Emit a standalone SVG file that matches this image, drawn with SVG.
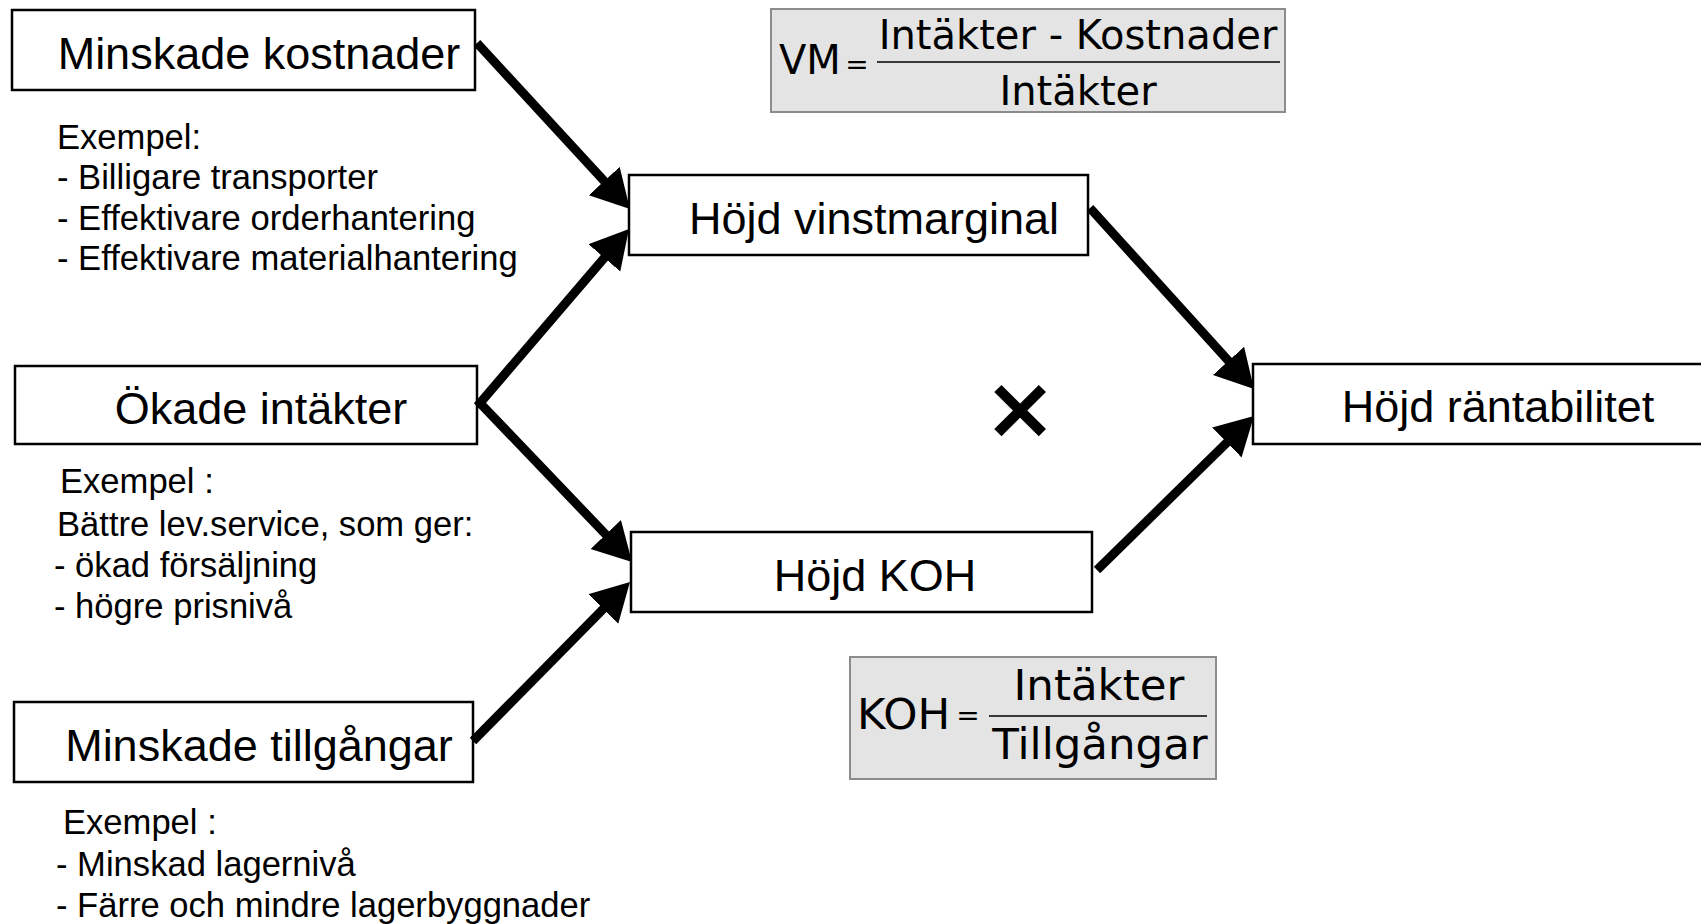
<svg xmlns="http://www.w3.org/2000/svg" width="1701" height="924" viewBox="0 0 1701 924">
<style>
.box{fill:#fff;stroke:#000;stroke-width:2.5}
.frm{fill:#e4e4e4;stroke:#8c8c8c;stroke-width:2}
.bt{font-family:"Liberation Sans",Arial,sans-serif;font-size:45px;fill:#000;text-anchor:middle}
.st{font-family:"Liberation Sans",Arial,sans-serif;font-size:34.6px;fill:#000}
.ft{font-family:"DejaVu Sans",Verdana,sans-serif;font-size:40px;fill:#000}
.fk{font-family:"DejaVu Sans",Verdana,sans-serif;font-size:43.5px;fill:#000}
.eq{font-family:"DejaVu Sans",Verdana,sans-serif;font-size:28px;fill:#000;text-anchor:middle}
.arr{fill:none;stroke:#000;stroke-width:9;stroke-linecap:butt;stroke-linejoin:miter;marker-end:url(#ah)}
</style>
<defs>
<marker id="ah" markerUnits="userSpaceOnUse" markerWidth="40" markerHeight="44" refX="18" refY="21" orient="auto-start-reverse" viewBox="0 0 40 44">
<path d="M0,0 L38,21 L0,42 Z" fill="#000"/>
</marker>
</defs>
<rect width="1701" height="924" fill="#fff"/>

<g id="vm-formula">
<rect class="frm" x="771" y="9" width="514" height="103"/>
<text class="ft" x="779" y="74">VM</text>
<text class="eq" x="857" y="74">=</text>
<line x1="877" y1="62" x2="1280" y2="62" stroke="#000" stroke-width="1.5"/>
<text class="ft" x="1078" y="49" text-anchor="middle">Intäkter - Kostnader</text>
<text class="ft" x="1078" y="105" text-anchor="middle">Intäkter</text>
</g>

<g id="koh-formula">
<rect class="frm" x="850" y="657" width="366" height="122"/>
<text class="fk" x="857" y="729">KOH</text>
<text class="eq" x="968" y="725">=</text>
<line x1="989" y1="716" x2="1207" y2="716" stroke="#000" stroke-width="1.5"/>
<text class="fk" x="1099" y="700" text-anchor="middle">Intäkter</text>
<text class="fk" x="1100" y="759" text-anchor="middle">Tillgångar</text>
</g>

<g id="minskade-kostnader">
<rect class="box" x="12" y="10" width="463" height="80"/>
<text class="bt" x="259" y="69">Minskade kostnader</text>
<text class="st" x="57" y="149">Exempel:</text>
<text class="st" x="57" y="189">- Billigare transporter</text>
<text class="st" x="57" y="230">- Effektivare orderhantering</text>
<text class="st" x="57" y="270">- Effektivare materialhantering</text>
</g>

<g id="okade-intakter">
<rect class="box" x="15" y="366" width="462" height="78"/>
<text class="bt" x="261" y="424">Ökade intäkter</text>
<text class="st" x="60" y="493">Exempel :</text>
<text class="st" x="57" y="536">Bättre lev.service, som ger:</text>
<text class="st" x="54" y="577">- ökad försäljning</text>
<text class="st" x="54" y="618">- högre prisnivå</text>
</g>

<g id="minskade-tillgangar">
<rect class="box" x="14" y="702" width="459" height="80"/>
<text class="bt" x="259" y="761">Minskade tillgångar</text>
<text class="st" x="63" y="834">Exempel :</text>
<text class="st" x="56" y="876">- Minskad lagernivå</text>
<text class="st" x="56" y="917">- Färre och mindre lagerbyggnader</text>
</g>

<g id="hojd-vinstmarginal">
<rect class="box" x="629" y="175" width="459" height="80"/>
<text class="bt" x="874" y="234">Höjd vinstmarginal</text>
</g>

<g id="hojd-koh">
<rect class="box" x="631" y="532" width="461" height="80"/>
<text class="bt" x="875" y="591">Höjd KOH</text>
</g>

<g id="hojd-rantabilitet">
<rect class="box" x="1253" y="364" width="470" height="80"/>
<text class="bt" x="1498" y="422">Höjd räntabilitet</text>
</g>

<g id="times">
<text x="1020" y="438" font-family="DejaVu Sans,sans-serif" font-weight="bold" font-size="88" text-anchor="middle">×</text>
</g>

<g id="connectors">
<path class="arr" d="M477,43 L616.4,194.3"/>
<path class="arr" d="M616.0,244.2 L480,403 L618.2,547.5" style="marker-start:url(#ah)"/>
<path class="arr" d="M473,741 L615.9,596.2"/>
<path class="arr" d="M1090,208 L1240.6,374.2"/>
<path class="arr" d="M1097,570 L1239.7,430.0"/>
</g>
</svg>
